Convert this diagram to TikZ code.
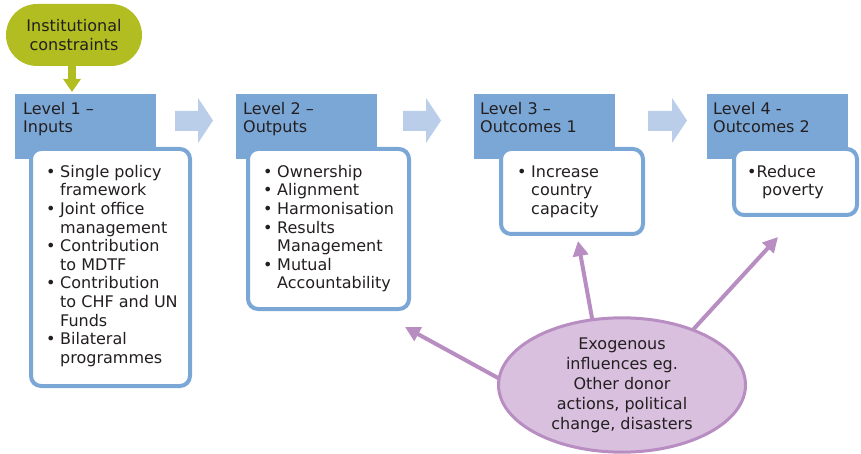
\documentclass[tikz,border=0pt]{standalone}
\usepackage{fontspec}
\setmainfont{DejaVu Sans}
\usetikzlibrary{arrows.meta,shapes.geometric}
\definecolor{hdrblue}{HTML}{7BA7D7}
\definecolor{arrblue}{HTML}{BACDE9}
\definecolor{olivec}{HTML}{B1BD21}
\definecolor{purp}{HTML}{B88DC2}
\definecolor{lpurp}{HTML}{D8C0DE}
\definecolor{txt}{HTML}{231F20}
\newcommand{\bl}{\makebox[14pt][l]{\textbullet}}
\newcommand{\ind}{\hspace*{14pt}}
\newcommand{\tstrut}{\rule{0pt}{12pt}}
\tikzset{
  every node/.style={text=txt, font=\fontsize{16}{18.6}\selectfont},
  hdr/.style={rectangle, fill=hdrblue, minimum width=141pt, minimum height=65pt, inner sep=0pt},
  hdrtxt/.style={anchor=north west, inner sep=0pt, align=left},
  lvlbox/.style={rectangle, draw=hdrblue, fill=white, line width=4pt, rounded corners=10pt, inner sep=0pt},
  listtxt/.style={anchor=north west, inner sep=0pt, align=left},
  bigarrow/.style={fill=arrblue},
  exarrow/.style={draw=purp, line width=4pt, -{Triangle[length=15pt,width=15pt]}},
  oarrow/.style={draw=olivec, line width=8pt, -{Triangle[length=13pt,width=17pt]}},
}
\begin{document}
\begin{tikzpicture}[x=1pt,y=-1pt]
\useasboundingbox (0,0) rectangle (861,454);
% institutional constraints
\node[fill=olivec, rounded corners=31pt, minimum width=136pt, minimum height=62pt, align=center, inner sep=0pt] (ic) at (74,35) {Institutional\\constraints};
% headers
\node[hdr] (h1) at (85.5,126.5) {};
\node[hdr] (h2) at (306.5,126.5) {};
\node[hdr] (h3) at (544.5,126.5) {};
\node[hdr] (h4) at (777.5,126.5) {};
\draw[oarrow] (ic.south -| 72,0) -- (72,92) coordinate (icend);
\node[hdrtxt] (t1) at (23,102) {\tstrut Level 1 –\\Inputs};
\node[hdrtxt] (t2) at (243,102) {\tstrut Level 2 –\\Outputs};
\node[hdrtxt] (t3) at (480,102) {\tstrut Level 3 –\\Outcomes 1};
\node[hdrtxt] (t4) at (713,102) {\tstrut Level 4 -\\Outcomes 2};
% big arrows
\fill[bigarrow] (175,111)--(198,111)--(198,98)--(213,120.5)--(198,143)--(198,131)--(175,131)--cycle;
\fill[bigarrow] (403,111)--(426,111)--(426,98)--(441,120.5)--(426,143)--(426,131)--(403,131)--cycle;
\fill[bigarrow] (648,111)--(672,111)--(672,98)--(687,120.5)--(672,143)--(672,131)--(648,131)--cycle;
% boxes
\node[lvlbox, minimum width=159pt, minimum height=237pt] (b1) at (110.5,267.5) {};
\node[lvlbox, minimum width=161pt, minimum height=160pt] (b2) at (328.5,229) {};
\node[lvlbox, minimum width=142pt, minimum height=85pt] (b3) at (572,191.5) {};
\node[lvlbox, minimum width=123pt, minimum height=66pt] (b4) at (795.5,182) {};
\node[listtxt] (l1) at (46,165) {\tstrut\bl Single policy\\\ind framework\\\bl Joint office\\\ind management\\\bl Contribution\\\ind to MDTF\\\bl Contribution\\\ind to CHF and UN\\\ind Funds\\\bl Bilateral\\\ind programmes};
\node[listtxt] (l2) at (263,165) {\tstrut\bl Ownership\\\bl Alignment\\\bl Harmonisation\\\bl Results\\\ind Management\\\bl Mutual\\\ind Accountability};
\node[listtxt] (l3) at (517,165) {\tstrut\bl Increase\\\ind country\\\ind capacity};
\node[listtxt] (l4) at (747,165) {\tstrut\textbullet Reduce\\\hspace*{15pt}poverty};
% exogenous arrows
\coordinate (s1) at (520,390);
\coordinate (s2) at (596,340);
\coordinate (s3) at (679,345);
\coordinate (e1) at (405,327);
\coordinate (e2) at (578,241);
\coordinate (e3) at (778,237);
\draw[exarrow] (s1) -- (e1);
\draw[exarrow] (s2) -- (e2);
\draw[exarrow] (s3) -- (e3);
\node[ellipse, draw=purp, fill=lpurp, line width=3pt, minimum width=247pt, minimum height=127pt, inner sep=0pt, align=center, font=\fontsize{16}{20}\selectfont] (ex) at (622,385) {Exogenous\\influences eg.\\Other donor\\actions, political\\change, disasters};
\end{tikzpicture}
\end{document}
